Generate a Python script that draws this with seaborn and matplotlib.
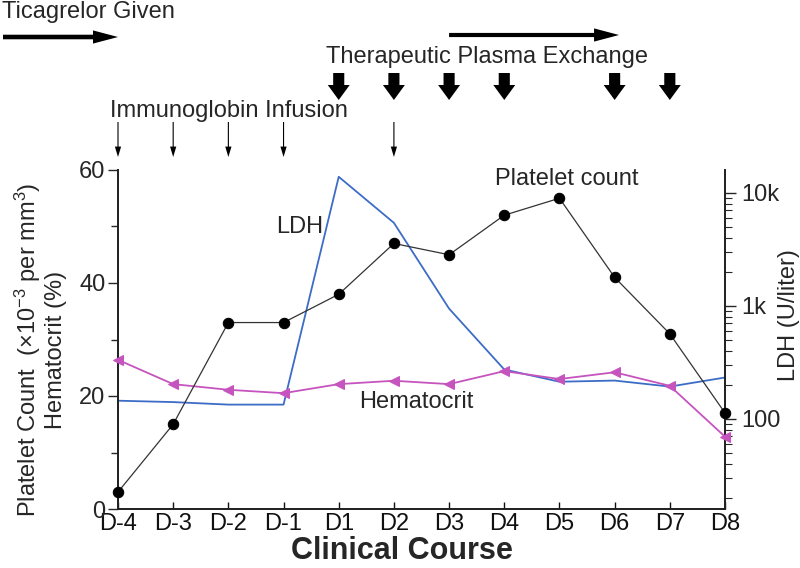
import numpy as np
import pandas as pd
import matplotlib
matplotlib.use('Agg')
import matplotlib.pyplot as plt
import seaborn as sns
from matplotlib.transforms import blended_transform_factory
from matplotlib.ticker import FixedLocator, NullFormatter, LogLocator

# ---- data ----
days = ['D-4', 'D-3', 'D-2', 'D-1', 'D1', 'D2', 'D3', 'D4', 'D5', 'D6', 'D7', 'D8']
platelet = [3, 15, 33, 33, 38, 47, 45, 52, 55, 41, 31, 17]
hematocrit = [26.4, 22.1, 21.1, 20.5, 22.1, 22.7, 22.1, 24.4, 23.0, 24.2, 21.8, 12.8]
ldh = [144, 140, 133, 133, 13800, 5400, 940, 272, 212, 217, 192, 231]
ivig_days = ['D-4', 'D-3', 'D-2', 'D-1', 'D2']
tpe_days = ['D1', 'D2', 'D3', 'D4', 'D6', 'D7']
left_ticks = [0, 20, 40, 60]
right_ticks = [100, 1000, 10000]
right_ticklabels = ['100', '1k', '10k']

sns.set_theme(style='ticks')
plt.rcParams['font.family'] = ['Liberation Sans', 'DejaVu Sans']
plt.rcParams['mathtext.default'] = 'regular'

W, H = 800, 568
fig = plt.figure(figsize=(W / 100, H / 100), dpi=100)
L, R, T, B = 118, 725, 170, 509
ax = fig.add_axes([L / W, 1 - B / H, (R - L) / W, (B - T) / H])
ax2 = ax.twinx()
ax2.set_yscale('log')

df = pd.DataFrame({'day': days, 'pos': np.arange(len(days)),
                   'platelet': platelet, 'hematocrit': hematocrit, 'ldh': ldh})
pos = {d: i for i, d in enumerate(days)}

blue = '#3d6cc6'
magenta = '#c654be'

sns.lineplot(data=df, x='pos', y='ldh', ax=ax2, color=blue, linewidth=1.3,
             sort=False, clip_on=False, zorder=2)
sns.lineplot(data=df, x='pos', y='hematocrit', ax=ax, color=magenta, linewidth=1.3,
             marker='<', markersize=7, markeredgecolor=magenta, sort=False,
             clip_on=False, zorder=3)
sns.lineplot(data=df, x='pos', y='platelet', ax=ax, color='#333333', linewidth=0.9,
             marker='o', markersize=7.5, markerfacecolor='black', markeredgecolor='black',
             sort=False, clip_on=False, zorder=4)
ax.set_zorder(ax2.get_zorder() + 1)
ax.patch.set_visible(False)

# axes styling
ax.set_xlim(0, len(days) - 1)
ax.set_ylim(0, 60)
ax2.set_ylim(10 ** 1.2, 10 ** 4.2)
ax.set_xticks(df['pos'])
ax.set_xticklabels(days)
ax.set_yticks(left_ticks)
ax.yaxis.set_minor_locator(FixedLocator([10, 30, 50]))
ax2.set_yticks(right_ticks)
ax2.set_yticklabels(right_ticklabels)
ax2.yaxis.set_minor_locator(LogLocator(base=10, subs=np.arange(2, 10)))
ax2.yaxis.set_minor_formatter(NullFormatter())
ax.set_xlabel('')
ax.set_ylabel('')
ax2.set_ylabel('')

for a in (ax, ax2):
    a.spines['top'].set_visible(False)
    for s in a.spines.values():
        s.set_linewidth(1.3)
        s.set_color('#222222')

ax.tick_params(axis='x', direction='in', length=5, width=1, labelsize=17, pad=3, colors='#111111')
ax.tick_params(axis='y', which='major', direction='out', length=7, width=1, labelsize=17, pad=2)
ax.tick_params(axis='y', which='minor', direction='out', length=5, width=1)
ax2.tick_params(axis='y', which='major', direction='out', length=8, width=1, labelsize=17, pad=4)
ax2.tick_params(axis='y', which='minor', direction='out', length=5, width=0.8)

# axis titles
fig.text(40 / W, 1 - 350 / H,
         'Platelet Count  ($\\times$10$^{-3}$ per mm$^{3}$)\nHematocrit (%)',
         rotation=90, ha='center', va='center', multialignment='center',
         fontsize=17, linespacing=1.1)
fig.text(789 / W, 1 - 315 / H, 'LDH (U/liter)', rotation=90, ha='center',
         va='center', fontsize=17)
fig.text(402 / W, 1 - 551 / H, 'Clinical Course', ha='center', va='center',
         fontsize=22, fontweight='bold')

# series labels
ax.text(2.86, 48.8, 'LDH', fontsize=17, va='baseline', ha='left')
ax.text(8.14, 57.3, 'Platelet count', fontsize=17, va='baseline', ha='center')
ax.text(4.37, 17.9, 'Hematocrit', fontsize=17, va='baseline', ha='left')

# top annotations
tr = blended_transform_factory(ax.transData, fig.transFigure)
fy = lambda y: 1 - y / H

fig.text(2 / W, fy(18), 'Ticagrelor Given', fontsize=17, va='baseline', ha='left')
ax.annotate('', xy=(pos['D-4'], fy(37)), xycoords=tr,
            xytext=(3 / W, fy(37)), textcoords='figure fraction',
            arrowprops=dict(arrowstyle='simple,head_length=1.8,head_width=0.95,tail_width=0.33',
                            color='black', lw=0, shrinkA=0, shrinkB=0, mutation_scale=10))

fig.text(487 / W, fy(63), 'Therapeutic Plasma Exchange', fontsize=17, va='baseline', ha='center')
ax.annotate('', xy=(9.08, fy(35)), xycoords=tr,
            xytext=(pos['D3'], fy(35)), textcoords=tr,
            arrowprops=dict(arrowstyle='simple,head_length=1.8,head_width=0.95,tail_width=0.3',
                            color='black', lw=0, shrinkA=0, shrinkB=0, mutation_scale=10))
for d in tpe_days:
    ax.annotate('', xy=(pos[d], fy(100)), xycoords=tr,
                xytext=(pos[d], fy(73)), textcoords=tr,
                arrowprops=dict(arrowstyle='simple,head_length=1.08,head_width=1.58,tail_width=0.8',
                                color='black', lw=0, shrinkA=0, shrinkB=0, mutation_scale=10))

fig.text(110 / W, fy(117), 'Immunoglobin Infusion', fontsize=17, va='baseline', ha='left')
for d in ivig_days:
    ax.annotate('', xy=(pos[d], fy(157)), xycoords=tr,
                xytext=(pos[d], fy(122)), textcoords=tr,
                arrowprops=dict(arrowstyle='simple,head_length=0.75,head_width=0.45,tail_width=0.08',
                                color='black', lw=0, shrinkA=0, shrinkB=0, mutation_scale=10))

fig.savefig('out.png', dpi=100)
